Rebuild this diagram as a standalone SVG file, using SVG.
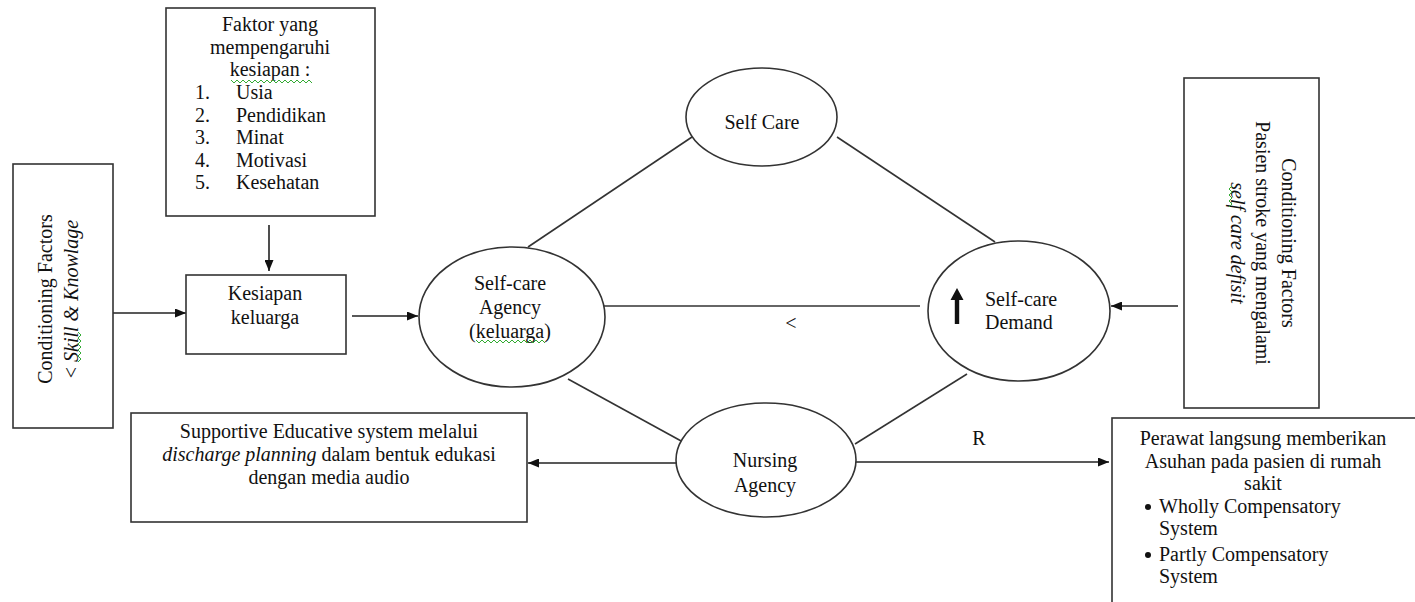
<svg xmlns="http://www.w3.org/2000/svg" width="1415" height="602" viewBox="0 0 1415 602">
<defs>
<marker id="ah" viewBox="0 0 11 9" refX="11" refY="4.5" markerWidth="11" markerHeight="9" markerUnits="userSpaceOnUse" orient="auto">
<path d="M0,0 L11,4.5 L0,9 z" fill="#111"/>
</marker>
<style>
text{font-family:"Liberation Serif","Times New Roman",serif;font-size:20px;fill:#111}
.c{text-anchor:middle}
.i{font-style:italic}
.box{fill:#fff;stroke:#333;stroke-width:1.6}
.ell{fill:#fff;stroke:#333;stroke-width:1.6}
.ln{fill:none;stroke:#333;stroke-width:1.6}
.ar{fill:none;stroke:#222;stroke-width:1.6;marker-end:url(#ah)}
.sq{fill:none;stroke:#3a3;stroke-width:1}
</style>
</defs>
<rect width="1415" height="602" fill="#fff"/>

<g id="connectors">
<line class="ln" x1="692" y1="137" x2="528" y2="247"/>
<line class="ln" x1="837" y1="137" x2="995" y2="242"/>
<line class="ln" x1="604" y1="306" x2="920" y2="306"/>
<line class="ln" x1="568" y1="379" x2="683" y2="442"/>
<line class="ln" x1="967" y1="374" x2="855" y2="444"/>
<line class="ar" x1="269" y1="225" x2="269" y2="271"/>
<line class="ar" x1="113" y1="313" x2="186" y2="313"/>
<line class="ar" x1="352" y1="316" x2="418" y2="316"/>
<line class="ar" x1="1178" y1="306" x2="1111" y2="306"/>
<line class="ar" x1="676" y1="463" x2="528" y2="463"/>
<line class="ar" x1="856" y1="462" x2="1109" y2="462"/>
<text class="c" x="791" y="330">&lt;</text>
<text class="c" x="979" y="445">R</text>
</g>

<g id="conditioning-left">
<rect class="box" x="13" y="164" width="100" height="264"/>
<text class="c" transform="translate(52,299) rotate(-90)">Conditioning Factors</text>
<text class="c" transform="translate(78,299) rotate(-90)">&lt; <tspan class="i">Skill &amp; Knowlage</tspan></text>
<polyline class="sq" points="78,332 81,335 78,338 81,341 78,344 81,347 78,350 81,353 78,356 81,359 78,362"/>
</g>

<g id="faktor">
<rect class="box" x="166" y="8" width="209" height="208"/>
<text class="c" x="270" y="31">Faktor yang</text>
<text class="c" x="270" y="54">mempengaruhi</text>
<text class="c" x="270" y="76">kesiapan :</text>
<polyline class="sq" points="231,80 234,83 237,80 240,83 243,80 246,83 249,80 252,83 255,80 258,83 261,80 264,83 267,80 270,83 273,80 276,83 279,80 282,83 285,80 288,83 291,80 294,83 297,80 300,83 303,80 306,83 309,80 312,83"/>
<text x="195" y="99">1.</text><text x="236" y="99">Usia</text>
<text x="195" y="122">2.</text><text x="236" y="122">Pendidikan</text>
<text x="195" y="144">3.</text><text x="236" y="144">Minat</text>
<text x="195" y="167">4.</text><text x="236" y="167">Motivasi</text>
<text x="195" y="189">5.</text><text x="236" y="189">Kesehatan</text>
</g>

<g id="kesiapan">
<rect class="box" x="186" y="275" width="160" height="79"/>
<text class="c" x="265" y="300">Kesiapan</text>
<text class="c" x="265" y="324">keluarga</text>
</g>

<g id="self-care">
<ellipse class="ell" cx="761.5" cy="117" rx="75.5" ry="49"/>
<text class="c" x="762" y="129">Self Care</text>
</g>

<g id="self-care-agency">
<ellipse class="ell" cx="512" cy="317" rx="93" ry="70"/>
<text class="c" x="510" y="290">Self-care</text>
<text class="c" x="510" y="314">Agency</text>
<text class="c" x="510" y="338">(keluarga)</text>
<polyline class="sq" points="476,340 479,343 482,340 485,343 488,340 491,343 494,340 497,343 500,340 503,343 506,340 509,343 512,340 515,343 518,340 521,343 524,340 527,343 530,340 533,343 536,340 539,343 542,340 545,343"/>
</g>

<g id="self-care-demand">
<ellipse class="ell" cx="1019" cy="311" rx="91" ry="70"/>
<path d="M957,288 L963.5,300 L959.2,300 L959.2,324 L954.8,324 L954.8,300 L950.5,300 z" fill="#111"/>
<text x="985" y="306">Self-care</text>
<text x="985" y="329">Demand</text>
</g>

<g id="nursing-agency">
<ellipse class="ell" cx="766" cy="460" rx="90" ry="57"/>
<text class="c" x="765" y="467">Nursing</text>
<text class="c" x="765" y="492">Agency</text>
</g>

<g id="conditioning-right">
<rect class="box" x="1184" y="78" width="135" height="330"/>
<text class="c" transform="translate(1282,243) rotate(90)">Conditioning Factors</text>
<text class="c" transform="translate(1256,243) rotate(90)">Pasien stroke yang mengalami</text>
<text class="c i" transform="translate(1231,243) rotate(90)">self care defisit</text>
<polyline class="sq" points="1232,186 1229,189 1232,192 1229,195 1232,198 1229,201 1232,204 1229,207"/>
</g>

<g id="supportive">
<rect class="box" x="131" y="413" width="396" height="109"/>
<text class="c" x="329" y="438">Supportive Educative  system melalui</text>
<text class="c" x="329" y="461"><tspan class="i">discharge planning</tspan> dalam bentuk edukasi</text>
<text class="c" x="329" y="484">dengan media audio</text>
</g>

<g id="perawat">
<rect class="box" x="1112" y="418" width="310" height="195"/>
<text class="c" x="1263" y="445">Perawat langsung memberikan</text>
<text class="c" x="1263" y="468">Asuhan pada pasien di rumah</text>
<text class="c" x="1263" y="490">sakit</text>
<circle cx="1148" cy="507" r="3" fill="#111"/>
<text x="1159" y="513">Wholly Compensatory</text>
<text x="1159" y="535">System</text>
<circle cx="1148" cy="555" r="3" fill="#111"/>
<text x="1159" y="561">Partly Compensatory</text>
<text x="1159" y="583">System</text>
</g>
</svg>
